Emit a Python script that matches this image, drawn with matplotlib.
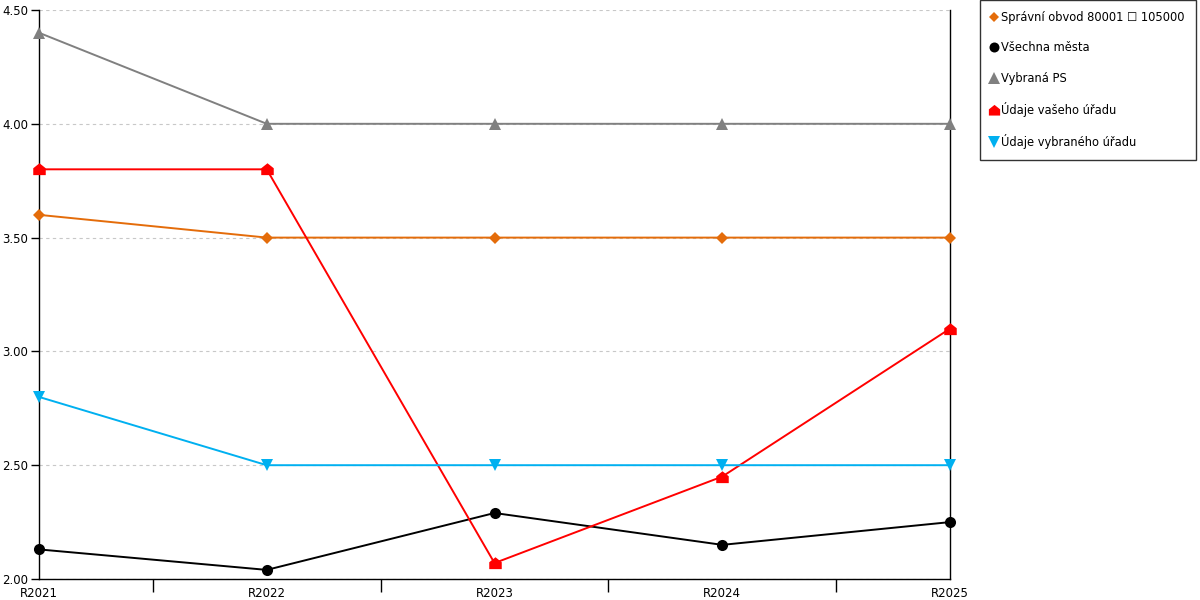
import matplotlib
matplotlib.use("Agg")
import matplotlib.pyplot as plt
import numpy as np
from matplotlib.path import Path

# data
years = ['R2021', 'R2022', 'R2023', 'R2024', 'R2025']
obvod = [3.60, 3.50, 3.50, 3.50, 3.50]
vsechna = [2.13, 2.04, 2.29, 2.15, 2.25]
vybrana_ps = [4.40, 4.00, 4.00, 4.00, 4.00]
vas_urad = [3.80, 3.80, 2.07, 2.45, 3.10]
vybrany_urad = [2.80, 2.50, 2.50, 2.50, 2.50]

labels = ['Správní obvod 80001 \u2610 105000', 'Všechna města', 'Vybraná PS',
          'Údaje vašeho úřadu', 'Údaje vybraného úřadu']

# house shaped marker for the red series
house = Path([(-1, -0.9), (1, -0.9), (1, 0.2), (0, 1), (-1, 0.2), (-1, -0.9)],
             [Path.MOVETO, Path.LINETO, Path.LINETO, Path.LINETO, Path.LINETO, Path.CLOSEPOLY])

plt.rcParams['font.family'] = ['DejaVu Sans']
plt.rcParams['font.size'] = 8.5

fig = plt.figure(figsize=(12, 6), dpi=100)
ax = fig.add_axes([39/1200, 21/600, 911/1200, 569/600])

x = np.arange(len(years))
series = [
    (obvod, '#E46C0A', 'D', 6),
    (vsechna, '#000000', 'o', 8),
    (vybrana_ps, '#808080', '^', 9),
    (vas_urad, '#FF0000', house, 9),
    (vybrany_urad, '#00B0F0', 'v', 9),
]
for (vals, col, mk, ms), lab in zip(series, labels):
    ax.plot(x, vals, color=col, linewidth=1.4, marker=mk, markersize=ms,
            markeredgewidth=0, label=lab, clip_on=False, zorder=3)

ax.set_xlim(0, len(years) - 1)
ax.set_ylim(2.0, 4.5)
ax.set_yticks(np.arange(2.0, 4.51, 0.5))
ax.set_yticklabels(['%.2f' % v for v in np.arange(2.0, 4.51, 0.5)])
ax.yaxis.grid(True, linestyle=(0, (3, 3)), color='#c8c8c8', linewidth=0.8)
ax.set_axisbelow(True)

# category labels on minor ticks, tick marks between categories
ax.set_xticks(x[:-1] + 0.5)
ax.set_xticklabels([])
ax.tick_params(axis='x', which='major', length=9, width=1, direction='out')
ax.set_xticks(x, minor=True)
ax.set_xticklabels(years, minor=True)
ax.tick_params(axis='x', which='minor', length=0, pad=6)
ax.tick_params(axis='y', length=6, width=1, pad=2)

ax.spines['top'].set_visible(False)
for s in ['left', 'right', 'bottom']:
    ax.spines[s].set_linewidth(1)

leg = fig.legend(loc='upper left', bbox_to_anchor=(980/1200, 1.0), frameon=True,
                 fancybox=False, edgecolor='black', handlelength=0.5,
                 handletextpad=0.4, labelspacing=1.5, borderpad=0.95,
                 borderaxespad=0, fontsize=8.3, markerscale=0.9)
for h in leg.get_lines():
    h.set_linestyle('None')
leg.get_frame().set_linewidth(1)

plt.savefig('out.png', dpi=100)
